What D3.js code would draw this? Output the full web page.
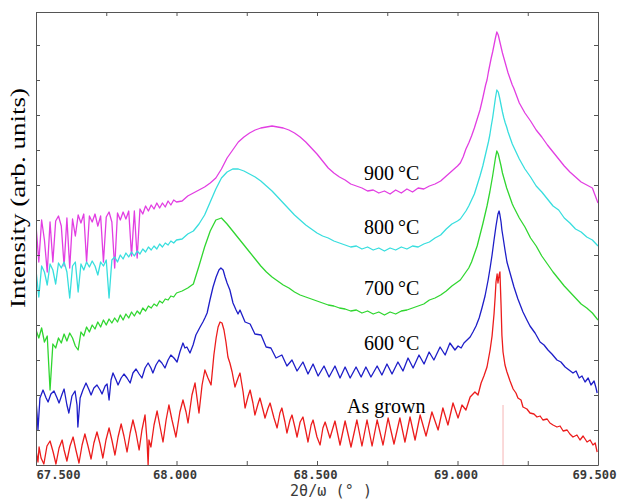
<!DOCTYPE html>
<html>
<head>
<meta charset="utf-8">
<script src="https://cdn.jsdelivr.net/npm/d3@7"></script>
<style>
  body { margin: 0; background: #fff; }
</style>
</head>
<body>
<div id="chart"></div>
<script>
// shared 2theta sampling for the three annealed curves with smooth peaks
var gridTheta = [
  67.50,67.51,67.52,67.53,67.54,67.55,67.56,67.57,67.58,67.59,67.60,67.61,67.62,67.63,67.64,67.65,67.66,67.67,67.68,67.69,
  67.70,67.71,67.72,67.73,67.74,67.75,67.76,67.77,67.78,67.79,67.80,67.81,67.82,67.83,67.84,67.85,67.86,67.87,67.88,67.89,
  67.90,67.91,67.92,67.93,67.94,67.95,67.96,67.97,67.98,67.99,68.00,
  68.02,68.04,68.06,68.08,68.10,68.12,68.14,68.16,68.18,68.20,68.22,68.24,68.26,68.28,68.30,68.32,68.34,68.36,68.38,68.40,
  68.42,68.44,68.46,68.48,68.50,68.52,68.54,68.56,68.58,68.60,68.62,68.64,68.66,68.68,68.70,68.72,68.74,68.76,68.78,68.80,
  68.82,68.84,68.86,68.88,68.90,68.92,68.94,68.96,68.98,69.00,
  69.01,69.02,69.03,69.04,69.05,69.06,69.07,69.08,69.09,69.10,
  69.105,69.110,69.115,69.120,69.125,69.130,69.135,69.140,69.145,69.150,69.155,69.160,69.165,69.170,69.175,69.180,69.185,69.190,69.195,69.200,
  69.22,69.24,69.26,69.28,69.30,69.32,69.34,69.36,69.38,69.40,69.42,69.44,69.46,69.48,69.50
];

var i900 = [
  240,203,245,225,193,243,203,244,249,239,199,247,197,246,229,250,242,251,203,249,243,251,239,249,203,248,253,243,197,252,
  245,253,246,254,209,254,207,256,251,259,254,260,256,262,257,262,258,264,260,265,263,
  264,269,272,275,278,282,287,296,307,315,323,328,332,335,337,338,339,338,337,335,332,328,323,317,311,304,297,292,288,285,
  281,279,277,274,275,272,274,271,275,272,276,273,277,276,279,281,284,289,294,299,
  302,308,316,322,329,337,346,355,367,380,
  385,393,400,407,413,420,427,433,430,424,418,412,407,402,397,392,388,384,380,377,
  362,352,344,335,328,320,313,306,299,293,288,283,280,277,262
];

var i800 = [
  195,168,199,193,180,201,195,181,202,197,203,193,167,199,203,173,201,195,203,198,204,199,190,203,199,205,167,205,208,203,
  210,206,212,208,213,209,214,211,216,213,218,215,219,216,221,218,222,220,224,222,225,
  226,231,234,241,250,263,276,287,293,296,296,294,291,288,284,279,274,268,262,256,250,245,240,236,232,229,227,224,222,220,
  218,219,216,218,215,217,214,217,215,218,216,219,218,221,223,227,230,236,241,244,
  246,250,254,259,265,271,280,289,299,311,
  317,323,330,339,347,357,367,375,373,367,360,353,347,342,338,333,329,325,321,318,
  306,296,288,279,273,266,259,255,247,242,236,233,228,225,219
];

var i700 = [
  135,127,137,123,129,75,121,117,127,122,131,124,132,127,119,115,133,129,138,133,140,136,143,138,145,140,146,142,147,143,
  150,145,151,147,153,149,154,151,157,154,159,157,161,159,164,162,166,165,169,168,172,
  174,177,181,199,218,234,245,247,241,234,227,220,213,206,199,193,188,184,180,177,173,170,168,166,164,162,160,159,157,156,
  154,155,152,154,151,153,150,153,151,154,155,157,159,161,165,167,170,174,179,183,
  185,189,193,197,203,211,219,230,241,253,
  259,266,273,281,289,298,307,314,311,305,299,292,287,282,277,273,269,265,261,258,
  247,238,227,219,209,201,193,186,179,173,167,161,157,152,145
];

// 600 C: thickness fringes, read peak by peak
var theta600 = [
  67.500,67.504,67.507,67.514,67.525,67.536,67.543,67.553,67.564,67.575,
  67.582,67.593,67.600,67.610,67.617,67.628,67.639,67.646,67.649,67.657,
  67.667,67.678,67.689,67.696,67.706,67.717,67.728,67.735,67.746,67.753,
  67.760,67.767,67.774,67.785,67.792,67.803,67.813,67.824,67.835,67.845,
  67.856,67.867,67.877,67.888,67.899,67.909,67.916,67.927,67.938,67.948,
  67.959,67.970,67.980,67.991,68.002,68.012,68.023,68.030,68.037,68.048,
  68.059,68.069,68.084,68.094,68.101,68.109,68.119,68.130,68.141,68.151,
  68.158,68.166,68.173,68.180,68.190,68.201,68.212,68.219,68.226,68.244,
  68.262,68.279,68.301,68.319,68.336,68.354,68.375,68.393,68.411,68.429,
  68.450,68.468,68.486,68.504,68.525,68.543,68.564,68.582,68.600,68.618,
  68.639,68.657,68.674,68.692,68.714,68.731,68.749,68.767,68.788,68.806,
  68.824,68.842,68.863,68.881,68.899,68.916,68.938,68.956,68.973,68.991,
  69.002,69.013,69.023,69.034,69.045,69.055,69.066,69.077,69.087,69.098,
  69.109,69.116,69.123,69.130,69.137,69.144,69.148,69.151,69.155,69.158,
  69.162,69.169,69.176,69.187,69.201,69.215,69.233,69.247,69.258,69.276,
  69.294,69.308,69.322,69.336,69.354,69.368,69.383,69.397,69.411,69.422,
  69.433,69.443,69.454,69.465,69.475,69.486,69.493,69.497
];
var i600 = [
  65,50,35,67,75,67,63,71,74,67,
  62,71,76,60,52,69,74,60,38,67,
  75,82,75,70,77,80,75,71,79,81,
  65,85,92,85,80,87,91,87,82,92,
  96,91,87,97,102,97,92,100,105,102,
  97,105,110,107,103,113,122,117,118,112,
  120,130,138,143,147,152,165,178,188,195,
  197,195,188,182,175,162,155,151,155,143,
  141,131,130,118,117,107,110,99,105,94,
  103,91,101,89,99,88,99,87,98,87,
  98,88,98,88,99,90,101,91,103,94,
  107,97,110,101,113,105,118,110,122,115,
  119,117,122,125,128,133,139,147,157,169,
  185,197,210,225,239,251,254,250,243,235,
  228,215,203,192,178,166,153,145,139,132,
  123,120,115,111,105,103,98,95,92,94,
  87,89,83,87,80,84,77,72
];

// as grown
var thetaGrown = [
  67.500,67.507,67.511,67.518,67.528,67.539,67.550,67.561,67.571,67.582,
  67.593,67.600,67.610,67.621,67.632,67.642,67.653,67.664,67.674,67.685,
  67.696,67.706,67.717,67.728,67.738,67.749,67.760,67.770,67.781,67.792,
  67.803,67.813,67.824,67.835,67.845,67.856,67.867,67.877,67.888,67.895,
  67.899,67.902,67.909,67.920,67.931,67.941,67.952,67.963,67.973,67.984,
  67.998,68.012,68.023,68.034,68.041,68.055,68.066,68.073,68.080,68.091,
  68.101,68.112,68.123,68.133,68.141,68.148,68.155,68.162,68.169,68.176,
  68.183,68.190,68.198,68.208,68.219,68.226,68.237,68.244,68.255,68.262,
  68.272,68.279,68.290,68.297,68.308,68.315,68.326,68.333,68.347,68.358,
  68.368,68.375,68.386,68.393,68.404,68.411,68.422,68.429,68.440,68.450,
  68.461,68.468,68.479,68.486,68.500,68.511,68.521,68.529,68.546,68.564,
  68.582,68.600,68.621,68.642,68.660,68.678,68.696,68.714,68.735,68.753,
  68.774,68.795,68.813,68.831,68.849,68.867,68.888,68.909,68.931,68.948,
  68.966,68.984,69.002,69.016,69.030,69.045,69.062,69.073,69.084,69.094,
  69.105,69.116,69.123,69.130,69.134,69.137,69.141,69.144,69.148,69.151,
  69.155,69.158,69.162,69.169,69.176,69.187,69.198,69.208,69.215,69.226,
  69.233,69.247,69.258,69.272,69.283,69.294,69.304,69.319,69.329,69.340,
  69.354,69.365,69.376,69.390,69.400,69.411,69.425,69.436,69.447,69.461,
  69.472,69.482,69.490,69.497
];
var iGrown = [
  15,3,18,7,1,19,24,13,1,17,
  25,15,4,19,28,15,2,20,31,19,
  6,22,33,21,7,25,37,25,10,28,
  41,29,13,32,45,32,15,35,50,25,
  0,25,18,40,54,39,23,45,60,45,
  28,53,65,53,42,70,82,67,52,80,
  95,87,80,110,127,138,143,142,135,123,
  108,102,93,78,87,92,73,57,69,75,
  62,50,61,67,55,47,57,62,47,37,
  52,57,43,32,45,50,37,28,43,48,
  33,23,40,45,28,20,37,43,27,44,
  20,44,18,45,19,45,19,45,20,47,
  21,47,23,48,25,50,29,53,35,57,
  40,62,47,60,55,68,73,70,82,89,
  98,115,129,151,168,183,191,182,190,193,
  160,130,113,100,93,84,76,72,67,65,
  58,56,52,51,48,49,45,46,42,40,
  38,39,34,35,31,28,30,25,29,23,
  25,20,22,13
];

var xTickValues = [67.5, 67.75, 68.0, 68.25, 68.5, 68.75, 69.0, 69.25, 69.5];
var xLabelValues = [67.5, 68.0, 68.5, 69.0, 69.5];
var yTickValues = [0, 35, 70, 105, 140, 175, 210, 245, 280, 315, 350, 385, 420];

var series = [
  { label: "900\u2009\u00b0C", theta: gridTheta, inten: i900, color: "#e23ee2", lx: 68.667, ly: 285 },
  { label: "800\u2009\u00b0C", theta: gridTheta, inten: i800, color: "#38dede", lx: 68.667, ly: 231 },
  { label: "700\u2009\u00b0C", theta: gridTheta, inten: i700, color: "#30d630", lx: 68.667, ly: 170 },
  { label: "600\u2009\u00b0C", theta: theta600, inten: i600, color: "#1e1ec8", lx: 68.667, ly: 115 },
  { label: "As grown", theta: thetaGrown, inten: iGrown, color: "#ec1c1c", lx: 68.607, ly: 52 }
];

var W = 619, H = 499;
var svg = d3.select("#chart").append("svg")
    .attr("width", W)
    .attr("height", H);

var x = d3.scaleLinear().domain([67.5, 69.5]).range([36, 598]);
var y = d3.scaleLinear().domain([0, 453]).range([465, 12]);

svg.append("defs").append("clipPath").attr("id", "plot")
  .append("rect")
    .attr("x", x(67.5)).attr("y", y(453))
    .attr("width", x(69.5) - x(67.5)).attr("height", y(0) - y(453));

// faint marker at the substrate peak
svg.append("line")
    .attr("x1", x(69.162)).attr("x2", x(69.162))
    .attr("y1", y(0)).attr("y2", y(60))
    .attr("stroke", "#f6b4b4")
    .attr("stroke-width", 1);

var line = d3.line()
    .x(function (d) { return x(d[0]); })
    .y(function (d) { return y(d[1]); });

var curves = svg.append("g").attr("clip-path", "url(#plot)");
series.forEach(function (s) {
  var pts = s.theta.map(function (t, i) { return [t, s.inten[i]]; });
  curves.append("path")
      .datum(pts)
      .attr("d", line)
      .attr("fill", "none")
      .attr("stroke", s.color)
      .attr("stroke-width", 1.3)
      .attr("stroke-linejoin", "round");
});

// labels beside each curve
series.forEach(function (s) {
  svg.append("text")
      .attr("x", x(s.lx))
      .attr("y", y(s.ly))
      .attr("font-family", "'Liberation Serif', 'Times New Roman', serif")
      .attr("font-size", "20px")
      .attr("fill", "#000")
      .text(s.label);
});

// frame + inward ticks
var axisColor = "#555";
var fmt = d3.format(".3f");

var gx = svg.append("g")
    .attr("transform", "translate(0," + y(0) + ")")
    .call(d3.axisBottom(x).tickValues(xTickValues).tickSizeInner(-4).tickSizeOuter(0).tickPadding(5)
      .tickFormat(function (d) { return xLabelValues.indexOf(d) >= 0 ? fmt(d) : ""; }));

svg.append("g")
    .attr("transform", "translate(0," + y(453) + ")")
    .call(d3.axisTop(x).tickValues(xTickValues).tickSizeInner(-4).tickSizeOuter(0).tickFormat(""));

svg.append("g")
    .attr("transform", "translate(" + x(67.5) + ",0)")
    .call(d3.axisLeft(y).tickValues(yTickValues).tickSizeInner(-4).tickSizeOuter(0).tickFormat(""));

svg.append("g")
    .attr("transform", "translate(" + x(69.5) + ",0)")
    .call(d3.axisRight(y).tickValues(yTickValues).tickSizeInner(-4).tickSizeOuter(0).tickFormat(""));

svg.selectAll(".domain, .tick line")
    .attr("stroke", axisColor)
    .attr("stroke-width", 1);

gx.selectAll("text")
    .attr("font-family", "'DejaVu Sans Mono', monospace")
    .attr("font-size", "13px")
    .attr("font-weight", "bold")
    .attr("fill", "#3a3a3a")
    .attr("dx", "-2")
    .attr("textLength", 44)
    .attr("lengthAdjust", "spacingAndGlyphs");

// first label sits inside the frame, last one is kept inside the window
gx.selectAll(".tick text")
    .filter(function (d) { return d === 67.5; })
    .attr("text-anchor", "start")
    .attr("dx", "0");
gx.selectAll(".tick text")
    .filter(function (d) { return d === 69.5; })
    .attr("text-anchor", "end")
    .attr("dx", "18");

svg.append("text")
    .attr("x", 331)
    .attr("y", 496)
    .attr("text-anchor", "middle")
    .attr("font-family", "'DejaVu Sans Mono', monospace")
    .attr("font-size", "15px")
    .attr("fill", "#3a3a3a")
    .attr("textLength", 82)
    .attr("lengthAdjust", "spacing")
    .text("2\u03b8/\u03c9 (\u00b0 )");

svg.append("text")
    .attr("transform", "translate(25," + 198 + ") rotate(-90)")
    .attr("text-anchor", "middle")
    .attr("font-family", "'Liberation Serif', 'Times New Roman', serif")
    .attr("font-size", "21px")
    .attr("fill", "#000")
    .attr("textLength", 220)
    .attr("lengthAdjust", "spacingAndGlyphs")
    .text("Intensity (arb. units)");
</script>
</body>
</html>
